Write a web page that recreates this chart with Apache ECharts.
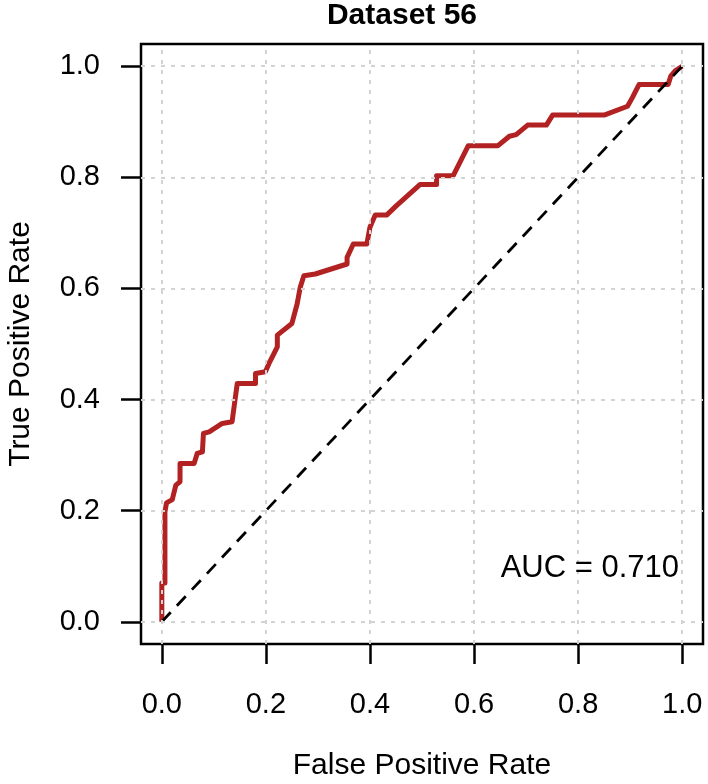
<!DOCTYPE html>
<html><head><meta charset="utf-8">
<script src="https://cdn.jsdelivr.net/npm/echarts@6/dist/echarts.min.js"></script>
<style>html,body{margin:0;padding:0;background:#fff}#c{width:708px;height:784px}</style>
</head><body><div id="c"></div>
<script>
const fpr = [0, 0, 0.006, 0.006, 0.009, 0.020, 0.027, 0.035, 0.035, 0.062, 0.068, 0.078, 0.080, 0.091, 0.116, 0.135, 0.145, 0.180, 0.180, 0.199, 0.206, 0.222, 0.222, 0.225, 0.250, 0.260, 0.266, 0.273, 0.295, 0.356, 0.356, 0.368, 0.394, 0.400, 0.410, 0.432, 0.451, 0.496, 0.528, 0.528, 0.560, 0.589, 0.646, 0.668, 0.681, 0.703, 0.739, 0.751, 0.850, 0.895, 0.904, 0.917, 0.973, 0.978, 0.987, 1.0];
const tpr = [0, 0.070, 0.070, 0.198, 0.214, 0.220, 0.246, 0.252, 0.285, 0.285, 0.303, 0.306, 0.339, 0.342, 0.357, 0.360, 0.429, 0.429, 0.447, 0.450, 0.465, 0.495, 0.516, 0.519, 0.537, 0.572, 0.602, 0.623, 0.626, 0.644, 0.656, 0.680, 0.680, 0.710, 0.732, 0.732, 0.749, 0.787, 0.787, 0.803, 0.803, 0.857, 0.857, 0.874, 0.877, 0.894, 0.894, 0.912, 0.912, 0.928, 0.943, 0.967, 0.967, 0.982, 0.992, 1.0];
const diagX = [0, 1];
const diagY = [0, 1];
const xTicks = [0, 0.2, 0.4, 0.6, 0.8, 1.0];
const yTicks = [0, 0.2, 0.4, 0.6, 0.8, 1.0];
const titleText = 'Dataset 56';
const xName = 'False Positive Rate';
const yName = 'True Positive Rate';
const aucText = 'AUC = 0.710';

const FONT = 'Liberation Sans, Arial, Helvetica, sans-serif';
const chart = echarts.init(document.getElementById('c'), null, {renderer: 'canvas'});
const rocData = fpr.map((x, i) => [x, tpr[i]]);
const diagData = diagX.map((x, i) => [x, diagY[i]]);
const gridMarks = xTicks.map(v => ({xAxis: v})).concat(yTicks.map(v => ({yAxis: v})));

const axisCommon = {
  type: 'value', min: -0.04, max: 1.04,
  axisLine: {show: false, onZero: false},
  splitLine: {show: false},
  axisTick: {show: true, inside: false, length: 20, lineStyle: {color: '#000', width: 2.5}},
  axisLabel: {color: '#000', fontSize: 29, fontFamily: FONT, formatter: v => v.toFixed(1)},
  nameTextStyle: {color: '#000', fontSize: 30, fontFamily: FONT}
};

chart.setOption({
  animation: false,
  backgroundColor: '#fff',
  grid: {left: 141, top: 44, width: 562, height: 600, containLabel: false, outerBoundsMode: 'none',
         show: true, borderColor: '#000', borderWidth: 2.5, backgroundColor: 'transparent'},
  xAxis: Object.assign({}, axisCommon, {
    name: xName, nameLocation: 'middle', nameGap: 107,
    axisTick: Object.assign({}, axisCommon.axisTick, {customValues: xTicks}),
    axisLabel: Object.assign({}, axisCommon.axisLabel, {customValues: xTicks, margin: 46})
  }),
  yAxis: Object.assign({}, axisCommon, {
    name: yName, nameLocation: 'middle', nameGap: 105, nameRotate: 90,
    axisTick: Object.assign({}, axisCommon.axisTick, {customValues: yTicks}),
    axisLabel: Object.assign({}, axisCommon.axisLabel, {customValues: yTicks, margin: 41})
  }),
  graphic: [
    {type: 'text', x: 402, y: 16, style: {text: titleText, font: 'bold 30px ' + FONT, fill: '#000', textAlign: 'center', textVerticalAlign: 'middle'}},
    {type: 'text', x: 679, y: 568, style: {text: aucText, font: '31px ' + FONT, fill: '#000', textAlign: 'right', textVerticalAlign: 'middle'}, z: 10}
  ],
  series: [
    {type: 'line', data: rocData, showSymbol: false, symbol: 'none', z: 2,
     lineStyle: {color: '#B22222', width: 5, join: 'round'}},
    {type: 'line', data: [], z: 3, silent: true,
     markLine: {silent: true, symbol: 'none', label: {show: false}, animation: false,
       lineStyle: {color: '#d3d3d3', width: 2, type: [4, 6]}, data: gridMarks}},
    {type: 'line', data: diagData, showSymbol: false, symbol: 'none', z: 4,
     lineStyle: {color: '#000', width: 2.8, type: [13, 9]}}
  ]
});
</script>
</body></html>
